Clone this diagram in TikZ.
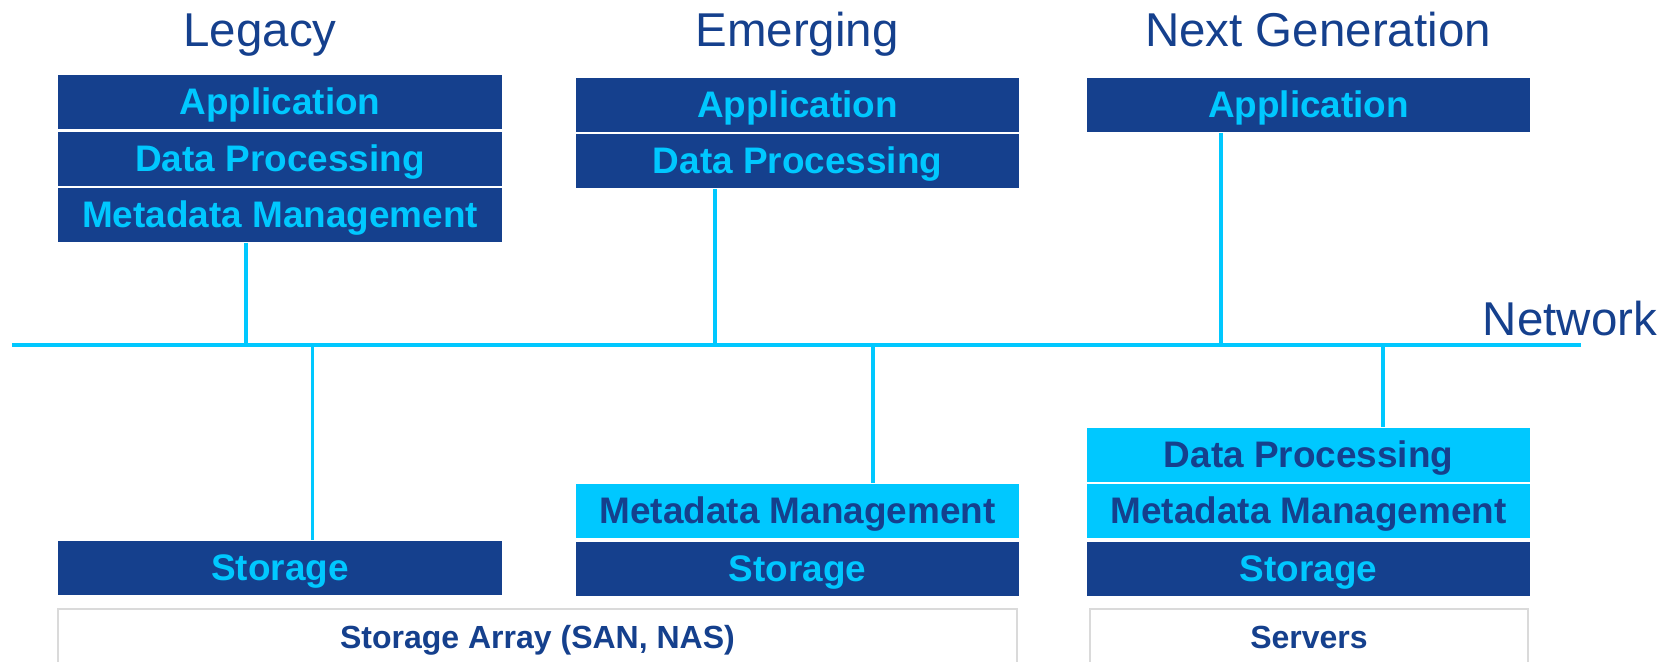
\documentclass[tikz,border=0pt]{standalone}
\usepackage{fontspec}
\setmainfont{Liberation Sans}

\definecolor{navy}{HTML}{15408D}
\definecolor{cyanish}{HTML}{00C8FF}
\definecolor{framegray}{HTML}{DADADA}

\tikzset{
  layer/.style={shape=rectangle, inner sep=0pt, minimum height=0.54cm,
    text height=0.716em, text depth=0pt,
    font=\bfseries\fontsize{10.5}{12}\selectfont},
  darklayer/.style={layer, fill=navy, text=cyanish},
  lightlayer/.style={layer, fill=cyanish, text=navy},
  hostbox/.style={shape=rectangle, draw=framegray, line width=0.6pt, inner sep=0pt,
    minimum height=0.54cm, anchor=north, text=navy,
    text height=0.716em, text depth=0pt,
    font=\bfseries\fontsize{9.1}{11}\selectfont},
  heading/.style={anchor=base, text=navy, font=\fontsize{13.5}{16}\selectfont},
  wire/.style={draw=cyanish, line width=0.9pt},
}

\begin{document}
\begin{tikzpicture}[x=0.01cm, y=-0.01cm]
   \useasboundingbox (0,0) rectangle (1671,661);

   \path (260,47) node[heading] (legacy) {Legacy};
   \path (797,47) node[heading] (emerging) {Emerging};
   \path (1318,47) node[heading] (nextgen) {Next Generation};
   \path (1570,335) node[heading] (network) {Network};

   \path (280,102) node[darklayer, minimum width=4.44cm] (lapp) {Application};
   \path (280,159) node[darklayer, minimum width=4.44cm] (ldp) {Data Processing};
   \path (280,215) node[darklayer, minimum width=4.44cm] (lmm) {Metadata Management};
   \path (280,568) node[darklayer, minimum width=4.44cm] (lst) {Storage};

   \path (797.5,105) node[darklayer, minimum width=4.43cm] (eapp) {Application};
   \path (797.5,161) node[darklayer, minimum width=4.43cm] (edp) {Data Processing};
   \path (797.5,511) node[lightlayer, minimum width=4.43cm] (emm) {Metadata Management};
   \path (797.5,569) node[darklayer, minimum width=4.43cm] (est) {Storage};

   \path (1308.5,105) node[darklayer, minimum width=4.43cm] (napp) {Application};
   \path (1308.5,455) node[lightlayer, minimum width=4.43cm] (ndp) {Data Processing};
   \path (1308.5,511) node[lightlayer, minimum width=4.43cm] (nmm) {Metadata Management};
   \path (1308.5,569) node[darklayer, minimum width=4.43cm] (nst) {Storage};

   \path (537.5,608) node[hostbox, minimum width=9.59cm] (array) {Storage Array (SAN, NAS)};
   \path (1309,608) node[hostbox, minimum width=4.38cm] (servers) {Servers};

   \coordinate (netL) at (12,345);
   \coordinate (netR) at (1581,345);
   \coordinate (n1) at (246,345);
   \coordinate (n2) at (312.5,345);
   \coordinate (n3) at (715,345);
   \coordinate (n4) at (873,345);
   \coordinate (n5) at (1221,345);
   \coordinate (n6) at (1383,345);

   \draw[wire] (lmm.south -| n1) -- (n1);
   \draw[wire] (n2) -- (n2 |- lst.north);
   \draw[wire] (edp.south -| n3) -- (n3);
   \draw[wire] (n4) -- (n4 |- emm.north);
   \draw[wire] (napp.south -| n5) -- (n5);
   \draw[wire] (n6) -- (n6 |- ndp.north);
   \draw[wire, line width=1.15pt] (netL) -- (netR);
\end{tikzpicture}
\end{document}
